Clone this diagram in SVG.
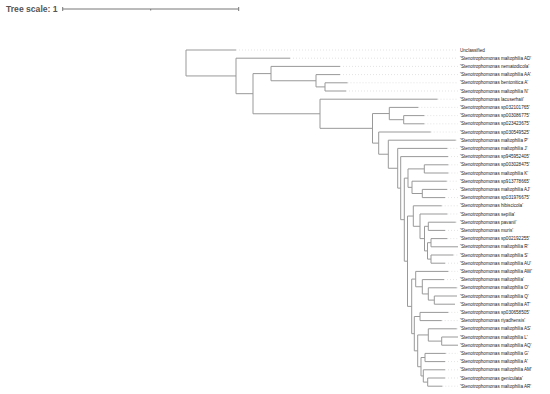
<svg xmlns="http://www.w3.org/2000/svg" width="550" height="394" viewBox="0 0 550 394">
<style>
.br{fill:none;stroke:#999;stroke-width:1}
.dt{fill:none;stroke:#dcdcdc;stroke-width:0.8;stroke-dasharray:1 2}
.lbl{font-family:"Liberation Sans",Arial,sans-serif;font-size:4.6px;fill:#222}
.ttl{font-family:"Liberation Sans",Arial,sans-serif;font-size:8.6px;fill:#555;font-weight:bold}
.sc{fill:none;stroke:#777;stroke-width:1}
</style>
<rect width="550" height="394" fill="#fff"/>
<g id="scale">
<text class="ttl" x="6" y="12">Tree scale: 1</text>
<path class="sc" d="M62.7 9H238.7M62.7 7V11M238.7 7V11M150.7 9V10.5"/>
</g>
<g id="connectors">
<path class="dt" d="M236 50H458M290 58.2H458M340 66.4H458M340 74.6H458M347.5 82.8H458M346 91H458M437.5 99.2H458M418.3 107.4H458M424.3 115.6H458M424.3 123.8H458M430.7 132H458M455.7 140.2H458M447.3 148.4H458M448 156.6H458M448.3 164.8H458M448.3 173H458M446.7 181.2H458M447 189.4H458M445 197.6H458M441.7 205.8H458M447.3 214H458M455.7 222.2H458M445 230.4H458M447.3 238.6H458M453.3 255H458M445 263.2H458M448.3 271.4H458M444 279.6H458M456.7 287.8H458M448.3 312.4H458M441.7 320.6H458M456.7 328.8H458M445.7 353.4H458M445 361.6H458M445 369.8H458M445 378H458M442.3 386.2H458"/>
<path class="br" d="M186 50V75.94M186 50H236M186 75.94H236
M236 58.2V93.68M236 58.2H290M236 93.68H253
M253 73.6V113.77M253 73.6H271M253 113.77H320
M271 66.4V80.75M271 66.4H340M271 80.75H316
M316 74.6V86.9M316 74.6H340M316 86.9H325
M325 82.8V91M325 82.8H347.5M325 91H346
M320 99.2V128.33M320 99.2H437.5M320 128.33H372.5
M372.5 113.55V143.12M372.5 113.55H389.3M372.5 143.12H378.7
M389.3 107.4V119.7M389.3 107.4H418.3M389.3 119.7H403.7
M403.7 115.6V123.8M403.7 115.6H424.3M403.7 123.8H424.3
M378.7 132V154.23M378.7 132H430.7M378.7 154.23H388.3
M388.3 140.2V168.27M388.3 140.2H455.7M388.3 168.27H397.7
M397.7 148.4V188.13M397.7 148.4H447.3M397.7 188.13H400.7
M400.7 156.6V219.66M400.7 156.6H448M400.7 219.66H404.3
M404.3 178.13V261.2M404.3 178.13H408M404.3 261.2H407.5
M408 168.9V187.35M408 168.9H424.3M408 187.35H412
M424.3 164.8V173M424.3 164.8H448.3M424.3 173H448.3
M412 181.2V193.5M412 181.2H446.7M412 193.5H422.3
M422.3 189.4V197.6M422.3 189.4H447M422.3 197.6H445
M407.5 216.05V306.38M407.5 216.05H413.3M407.5 306.38H411.7
M413.3 205.8V226.3M413.3 205.8H441.7M413.3 226.3H420
M420 214V238.6M420 214H447.3M420 238.6H424.5
M424.5 226.3V250.9M424.5 226.3H428.3M424.5 250.9H427.5
M428.3 222.2V230.4M428.3 222.2H455.7M428.3 230.4H445
M427.5 242.7V259.1M427.5 242.7H431M427.5 259.1H431
M431 238.6V246.8M431 238.6H447.3M431 246.8H458
M431 255V263.2M431 255H453.3M431 263.2H445
M411.7 279.09V333.67M411.7 279.09H415.7M411.7 333.67H414.3
M415.7 271.4V286.78M415.7 271.4H448.3M415.7 286.78H422.3
M422.3 279.6V293.95M422.3 279.6H444M422.3 293.95H428.3
M428.3 287.8V300.1M428.3 287.8H456.7M428.3 300.1H434.3
M434.3 296V304.2M434.3 296H457M434.3 304.2H455
M414.3 316.5V350.84M414.3 316.5H420M414.3 350.84H417.7
M420 312.4V320.6M420 312.4H448.3M420 320.6H441.7
M417.7 334.95V366.73M417.7 334.95H428.3M417.7 366.73H421
M428.3 328.8V341.1M428.3 328.8H456.7M428.3 341.1H441.7
M441.7 337V345.2M441.7 337H458M441.7 345.2H458
M421 357.5V375.95M421 357.5H425M421 375.95H423.3
M425 353.4V361.6M425 353.4H445.7M425 361.6H445
M423.3 369.8V382.1M423.3 369.8H445M423.3 382.1H427.7
M427.7 378V386.2M427.7 378H445M427.7 386.2H442.3"/>
</g>
<g id="leaf-0"><text class="lbl" x="460" y="51.6">Unclassified</text></g>
<g id="leaf-1"><text class="lbl" x="460" y="59.8">'Stenotrophomonas maltophilia AD'</text></g>
<g id="leaf-2"><text class="lbl" x="460" y="68">'Stenotrophomonas nematodicola'</text></g>
<g id="leaf-3"><text class="lbl" x="460" y="76.2">'Stenotrophomonas maltophilia AA'</text></g>
<g id="leaf-4"><text class="lbl" x="460" y="84.4">'Stenotrophomonas bentonitica A'</text></g>
<g id="leaf-5"><text class="lbl" x="460" y="92.6">'Stenotrophomonas maltophilia N'</text></g>
<g id="leaf-6"><text class="lbl" x="460" y="100.8">'Stenotrophomonas lacuserhaii'</text></g>
<g id="leaf-7"><text class="lbl" x="460" y="109">'Stenotrophomonas sp032101765'</text></g>
<g id="leaf-8"><text class="lbl" x="460" y="117.2">'Stenotrophomonas sp003086775'</text></g>
<g id="leaf-9"><text class="lbl" x="460" y="125.4">'Stenotrophomonas sp023423675'</text></g>
<g id="leaf-10"><text class="lbl" x="460" y="133.6">'Stenotrophomonas sp030549525'</text></g>
<g id="leaf-11"><text class="lbl" x="460" y="141.8">'Stenotrophomonas maltophilia P'</text></g>
<g id="leaf-12"><text class="lbl" x="460" y="150">'Stenotrophomonas maltophilia J'</text></g>
<g id="leaf-13"><text class="lbl" x="460" y="158.2">'Stenotrophomonas sp945952405'</text></g>
<g id="leaf-14"><text class="lbl" x="460" y="166.4">'Stenotrophomonas sp003028475'</text></g>
<g id="leaf-15"><text class="lbl" x="460" y="174.6">'Stenotrophomonas maltophilia K'</text></g>
<g id="leaf-16"><text class="lbl" x="460" y="182.8">'Stenotrophomonas sp913778665'</text></g>
<g id="leaf-17"><text class="lbl" x="460" y="191">'Stenotrophomonas maltophilia AJ'</text></g>
<g id="leaf-18"><text class="lbl" x="460" y="199.2">'Stenotrophomonas sp031976675'</text></g>
<g id="leaf-19"><text class="lbl" x="460" y="207.4">'Stenotrophomonas hibiscicola'</text></g>
<g id="leaf-20"><text class="lbl" x="460" y="215.6">'Stenotrophomonas sepilia'</text></g>
<g id="leaf-21"><text class="lbl" x="460" y="223.8">'Stenotrophomonas pavanii'</text></g>
<g id="leaf-22"><text class="lbl" x="460" y="232">'Stenotrophomonas muris'</text></g>
<g id="leaf-23"><text class="lbl" x="460" y="240.2">'Stenotrophomonas sp002192255'</text></g>
<g id="leaf-24"><text class="lbl" x="460" y="248.4">'Stenotrophomonas maltophilia R'</text></g>
<g id="leaf-25"><text class="lbl" x="460" y="256.6">'Stenotrophomonas maltophilia S'</text></g>
<g id="leaf-26"><text class="lbl" x="460" y="264.8">'Stenotrophomonas maltophilia AU'</text></g>
<g id="leaf-27"><text class="lbl" x="460" y="273">'Stenotrophomonas maltophilia AW'</text></g>
<g id="leaf-28"><text class="lbl" x="460" y="281.2">'Stenotrophomonas maltophilia'</text></g>
<g id="leaf-29"><text class="lbl" x="460" y="289.4">'Stenotrophomonas maltophilia O'</text></g>
<g id="leaf-30"><text class="lbl" x="460" y="297.6">'Stenotrophomonas maltophilia Q'</text></g>
<g id="leaf-31"><text class="lbl" x="460" y="305.8">'Stenotrophomonas maltophilia AT'</text></g>
<g id="leaf-32"><text class="lbl" x="460" y="314">'Stenotrophomonas sp030658505'</text></g>
<g id="leaf-33"><text class="lbl" x="460" y="322.2">'Stenotrophomonas riyadhensis'</text></g>
<g id="leaf-34"><text class="lbl" x="460" y="330.4">'Stenotrophomonas maltophilia AS'</text></g>
<g id="leaf-35"><text class="lbl" x="460" y="338.6">'Stenotrophomonas maltophilia L'</text></g>
<g id="leaf-36"><text class="lbl" x="460" y="346.8">'Stenotrophomonas maltophilia AQ'</text></g>
<g id="leaf-37"><text class="lbl" x="460" y="355">'Stenotrophomonas maltophilia G'</text></g>
<g id="leaf-38"><text class="lbl" x="460" y="363.2">'Stenotrophomonas maltophilia A'</text></g>
<g id="leaf-39"><text class="lbl" x="460" y="371.4">'Stenotrophomonas maltophilia AM'</text></g>
<g id="leaf-40"><text class="lbl" x="460" y="379.6">'Stenotrophomonas geniculata'</text></g>
<g id="leaf-41"><text class="lbl" x="460" y="387.8">'Stenotrophomonas maltophilia AR'</text></g>
</svg>
